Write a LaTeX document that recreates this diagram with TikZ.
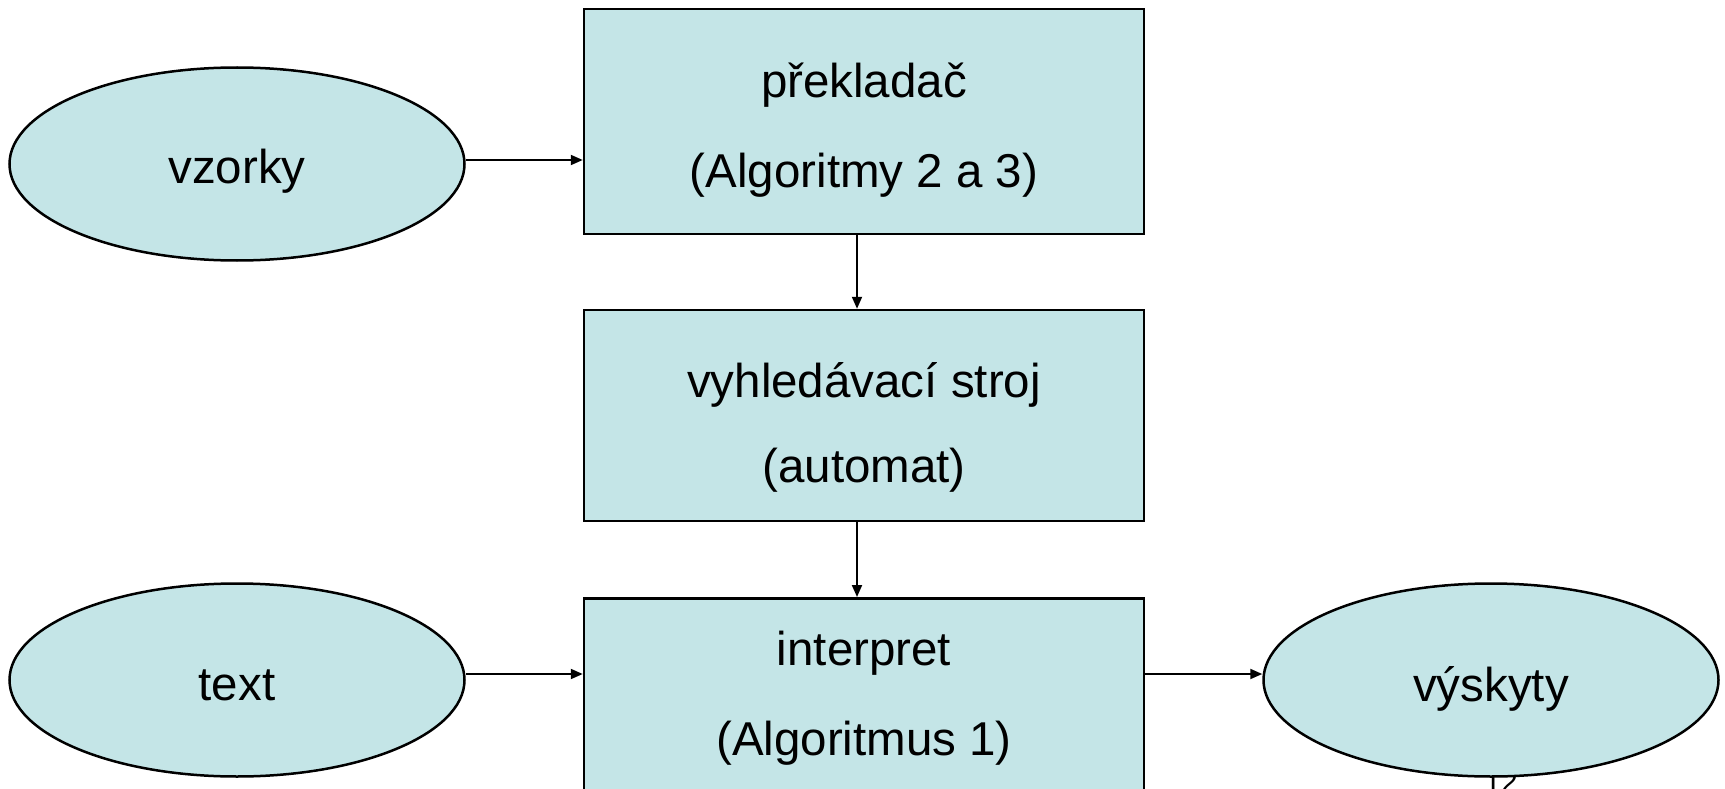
\documentclass[tikz,border=0pt]{standalone}
\usepackage{fontspec}
\setmainfont{Liberation Sans}
\usetikzlibrary{shapes.geometric,arrows.meta}
\definecolor{boxfill}{RGB}{196,229,231}
\tikzset{
  stage/.style={draw=black, line width=2.5pt, fill=boxfill, rectangle,
    minimum width=560pt, inner sep=0pt},
  blob/.style={draw=black, line width=2.5pt, fill=boxfill, ellipse,
    minimum width=455pt, minimum height=193pt, inner sep=0pt},
  caption/.style={anchor=base, inner sep=0pt,
    font=\fontsize{47.5}{57}\selectfont},
  flow/.style={line width=2pt, -{Triangle[length=12pt,width=10pt]}}
}
\begin{document}
\begin{tikzpicture}[x=1pt,y=-1pt]
  \useasboundingbox (0,0) rectangle (1725,789);
  \clip (0,0) rectangle (1725,789);
  \fill[white] (0,0) rectangle (1725,789);

  % page number, mostly hidden behind the output ellipse
  \node[anchor=north, inner sep=0pt, font=\fontsize{30}{36}\selectfont] (pageno) at (1501,771) {12};

  % processing stages
  \node[stage, minimum height=225pt] (prek) at (864,121.5) {};
  \node[caption] (prek1) at (864,98) {překladač};
  \node[caption] (prek2) at (864,188) {(Algoritmy 2 a 3)};

  \node[stage, minimum height=211pt] (hled) at (864,415.5) {};
  \node[caption] (hled1) at (864,397) {vyhledávací stroj};
  \node[caption] (hled2) at (864,482) {(automat)};

  \node[stage, minimum height=230pt, anchor=north] (interp) at (864,597) {};
  \node[caption] (interp1) at (864,665) {interpret};
  \node[caption] (interp2) at (864,755) {(Algoritmus 1)};

  % inputs and output
  \node[blob] (vz) at (237,164) {};
  \node[caption] (vzt) at (237,183) {vzorky};
  \node[blob] (txt) at (237,680) {};
  \node[caption] (txtt) at (237,700) {text};
  \node[blob] (vys) at (1491,680) {};
  \node[caption] (vyst) at (1491,701) {výskyty};

  % connectors
  \draw[flow] ([yshift=4pt]vz.east) -- ([yshift=4pt]vz.east -| prek.west);
  \draw[flow] ([xshift=-7pt]prek.south) -- ([xshift=-7pt]hled.north);
  \draw[flow] ([xshift=-7pt]hled.south) -- ([xshift=-7pt]interp.north);
  \draw[flow] ([yshift=6pt]txt.east) -- ([yshift=6pt]txt.east -| interp.west);
  \draw[flow] ([yshift=6pt]txt.east -| interp.east) -- ([yshift=6pt]vys.west);
\end{tikzpicture}
\end{document}
